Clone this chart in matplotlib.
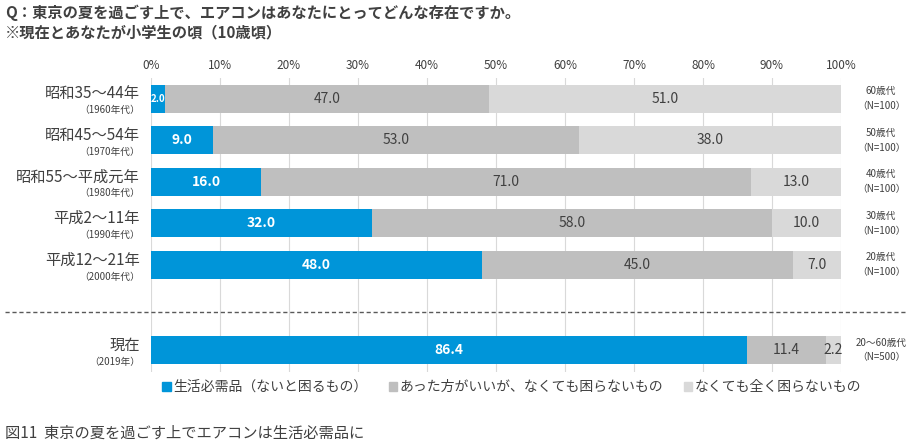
import matplotlib.pyplot as plt
from matplotlib.lines import Line2D
from matplotlib.patches import Patch

plt.rcParams['font.family'] = ['Noto Sans CJK JP', 'DejaVu Sans']

# data
rows = ["昭和35～44年", "昭和45～54年", "昭和55～平成元年", "平成2～11年", "平成12～21年", "現在"]
sub = ["（1960年代）", "（1970年代）", "（1980年代）", "（1990年代）", "（2000年代）", "（2019年）"]
ages = ["60歳代\n（N=100）", "50歳代\n（N=100）", "40歳代\n（N=100）", "30歳代\n（N=100）",
        "20歳代\n（N=100）", "20～60歳代\n（N=500）"]
necessary = [2.0, 9.0, 16.0, 32.0, 48.0, 86.4]
nice_to_have = [47.0, 53.0, 71.0, 58.0, 45.0, 11.4]
not_needed = [51.0, 38.0, 13.0, 10.0, 7.0, 2.2]
series_names = ["生活必需品（ないと困るもの）", "あった方がいいが、なくても困らないもの", "なくても全く困らないもの"]
ticks = [0, 10, 20, 30, 40, 50, 60, 70, 80, 90, 100]

colors = ["#0095D9", "#BFBFBF", "#D9D9D9"]
txtcol = ["white", "#404040", "#404040"]
ypos = [0, 1, 2, 3, 4, 6.05]

fig = plt.figure(figsize=(9.11, 4.46), dpi=100)
ax = fig.add_axes([151/911, 1 - 372/446, 690/911, 294/446])

left = [0]*len(rows)
for k, vals in enumerate([necessary, nice_to_have, not_needed]):
    ax.barh(ypos, vals, left=left, height=0.67, color=colors[k], zorder=2)
    for i, v in enumerate(vals):
        cx = left[i] + v/2
        fs = 7 if v < 3 and k == 0 else 10
        ax.text(cx, ypos[i], f"{v:.1f}", ha="center", va="center",
                color=txtcol[k], fontsize=fs, fontweight="bold" if k == 0 else "normal")
    left = [a + b for a, b in zip(left, vals)]

ax.set_xlim(0, 100)
ax.set_ylim(6.58, -0.5)
ax.set_xticks(ticks)
ax.set_xticklabels([f"{t}%" for t in ticks], fontsize=8.5, color="#404040")
ax.xaxis.tick_top()
ax.tick_params(axis="x", length=0, pad=4)
ax.set_yticks([])
ax.grid(axis="x", color="#D9D9D9", linewidth=0.8, zorder=0)
for s in ax.spines.values():
    s.set_visible(False)

for i, y in enumerate(ypos):
    ax.text(-1.6, y - 0.12, rows[i], ha="right", va="center", fontsize=11, color="#404040")
    ax.text(-1.6, y + 0.28, sub[i], ha="right", va="center", fontsize=7, color="#404040")
    ax.text(105.8, y, ages[i], ha="center", va="center", fontsize=7, color="#404040",
            linespacing=1.6)

# dashed separator across the figure
fig.add_artist(Line2D([5/911, 905/911], [1 - 312/446]*2, color="#595959",
                      linestyle=(0, (3, 2)), linewidth=1))

fig.text(5/911, 1 - 13/446, "Q：東京の夏を過ごす上で、エアコンはあなたにとってどんな存在ですか。",
         fontsize=11, fontweight="bold", color="#404040", va="center")
fig.text(5/911, 1 - 32/446, "※現在とあなたが小学生の頃（10歳頃）",
         fontsize=11, fontweight="bold", color="#404040", va="center")

handles = [Patch(color=c) for c in colors]
fig.legend(handles, series_names, loc="center", bbox_to_anchor=(512/911, 1 - 387/446),
           ncol=3, frameon=False, fontsize=10, handlelength=0.6, handleheight=0.6,
           handletextpad=0.2, columnspacing=1.5, labelcolor="#404040")

fig.text(5/911, 1 - 433/446, "図11  東京の夏を過ごす上でエアコンは生活必需品に",
         fontsize=11, color="#404040", va="center")

fig.savefig("out.png", dpi=100)
